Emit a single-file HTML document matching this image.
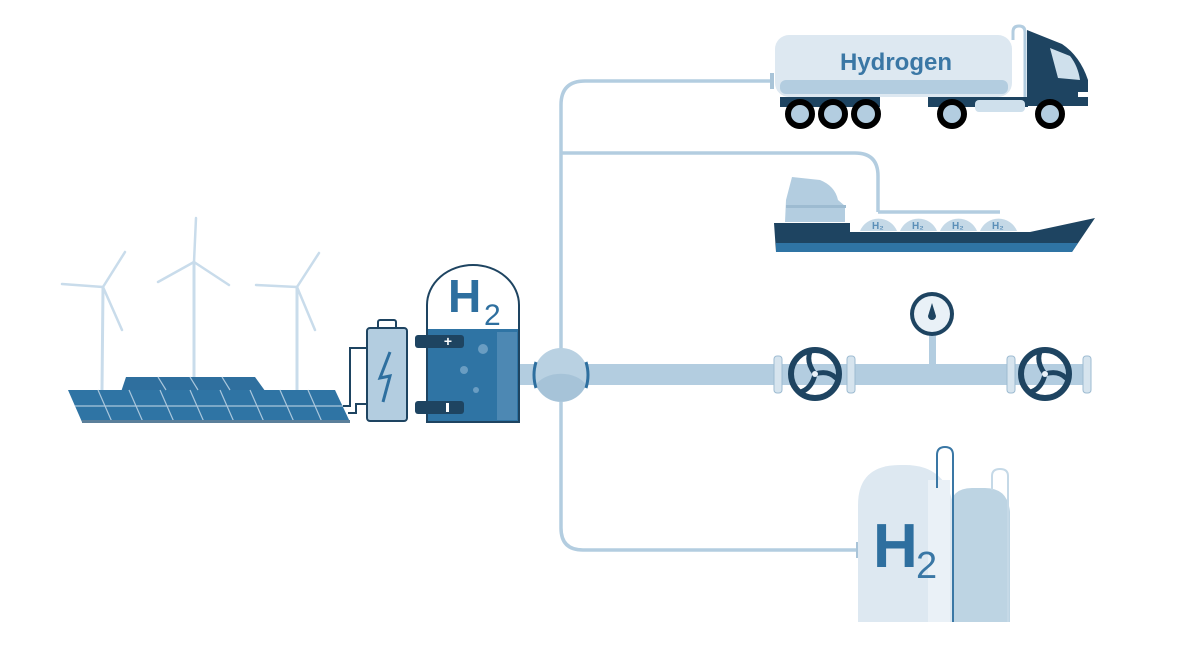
<!DOCTYPE html>
<html><head><meta charset="utf-8"><style>html,body{margin:0;padding:0;background:#fff}svg{display:block}</style></head>
<body>
<svg width="1200" height="657" viewBox="0 0 1200 657" xmlns="http://www.w3.org/2000/svg" font-family="Liberation Sans, sans-serif">
<rect width="1200" height="657" fill="#fff"/>
<!-- thin pipes -->
<g fill="none" stroke="#b3cde0" stroke-width="3.5">
<path d="M773 81 H585 Q561 81 561 105 V528 Q561 550 583 550 H858"/>
<path d="M561 153 H855 Q878 153 878 176 V212"/>
<path d="M878 212 H1000"/>
</g>
<rect x="770" y="73" width="4" height="16" fill="#a9c4d8"/>
<rect x="856" y="542" width="4" height="16" fill="#a9c4d8"/>
<!-- main pipe -->
<rect x="518" y="364" width="568" height="21" fill="#b3cde0"/>
<g fill="#d6e4ee" stroke="#9dbbd1" stroke-width="1">
<rect x="774" y="356" width="8" height="37" rx="3"/><rect x="847" y="356" width="8" height="37" rx="3"/>
<rect x="1007" y="356" width="8" height="37" rx="3"/><rect x="1083" y="356" width="8" height="37" rx="3"/>
</g>
<!-- gauge -->
<rect x="929" y="330" width="7" height="37" fill="#b3cde0"/>
<circle cx="932" cy="314" r="22" fill="#1e4461"/>
<circle cx="932" cy="314" r="18" fill="#e9f1f7"/>
<path d="M932 303 L936 316 A4 4 0 1 1 928 316 Z" fill="#1e4461"/>
<!-- valves -->
<g fill="none" stroke="#1e4461" stroke-width="6">
<circle cx="815" cy="374" r="24"/><circle cx="1045" cy="374" r="24"/>
</g>
<g fill="none" stroke="#1e4461" stroke-width="5" stroke-linecap="round">
<path d="M815 374 Q806 362 810 352 M815 374 Q828 370 836 378 M815 374 Q812 388 801 392"/>
<path d="M1045 374 Q1036 362 1040 352 M1045 374 Q1058 370 1066 378 M1045 374 Q1042 388 1031 392"/>
</g>
<circle cx="815" cy="374" r="3" fill="#e9f1f7"/><circle cx="1045" cy="374" r="3" fill="#e9f1f7"/>
<!-- junction sphere -->
<circle cx="561" cy="375" r="27" fill="#b9d1e2"/>
<path d="M536 385 A27 27 0 0 0 586 385 A27 18 0 0 0 536 385Z" fill="#a6c3d8"/>
<path d="M536 362 Q532 375 536 388 M586 362 Q590 375 586 388" stroke="#2e6f9f" stroke-width="3" fill="none"/>
<!-- electrolyzer -->
<path d="M427 422 V305 A46 40 0 0 1 519 305 V422 Z" fill="#fff" stroke="#1e4461" stroke-width="2"/>
<rect x="428" y="329" width="90" height="92" fill="#2f74a4"/>
<rect x="497" y="332" width="20" height="88" fill="#4d88b3"/>
<circle cx="483" cy="349" r="5" fill="#6a9dc2"/><circle cx="464" cy="370" r="4" fill="#6a9dc2"/><circle cx="476" cy="390" r="3" fill="#6a9dc2"/>
<text x="448" y="312" font-size="46" font-weight="bold" fill="#2e6f9f">H</text>
<text x="484" y="325" font-size="30" fill="#2e6f9f">2</text>
<rect x="415" y="335" width="49" height="13" rx="3" fill="#1e4461"/>
<rect x="415" y="401" width="49" height="13" rx="3" fill="#1e4461"/>
<text x="448" y="346" font-size="14" font-weight="bold" fill="#fff" text-anchor="middle">+</text>
<rect x="446" y="403" width="3" height="9" fill="#fff"/>
<!-- battery -->
<rect x="378" y="320" width="18" height="9" rx="2" fill="#fff" stroke="#1e4461" stroke-width="2"/>
<rect x="367" y="328" width="40" height="93" rx="3" fill="#b3cde0" stroke="#1e4461" stroke-width="2"/>
<path d="M390 352 L380 378 L390 376 L383 402" fill="none" stroke="#2e6f9f" stroke-width="3"/>
<path d="M367 348 H350 V406 H343 M367 404 H356 V413 H348" fill="none" stroke="#1e4461" stroke-width="2"/>
<!-- turbines -->
<g stroke="#c9dceb" fill="none" stroke-linecap="round">
<path d="M102 390 L103 287 M194 390 L194 262 M297 390 L297 287" stroke-width="3"/>
<g stroke-width="2.5">
<path d="M103 287 L125 252 M103 287 L62 284 M103 287 L122 330"/>
<path d="M194 262 L196 218 M194 262 L158 282 M194 262 L229 285"/>
<path d="M297 287 L319 253 M297 287 L256 285 M297 287 L315 330"/>
</g></g>
<!-- solar -->
<path d="M126 377 L255 377 L268 395 L120 395 Z" fill="#2f6f9e"/>
<path d="M68 390 L335 390 L350 422 L82 422 Z" fill="#2f74a4"/>
<g stroke="#a9c6dc" stroke-width="1.2">
<path d="M75 406 H343 M98 390 L112 422 M129 390 L143 422 M160 390 L174 422 M190 390 L204 422 M220 390 L234 422 M250 390 L264 422 M280 390 L294 422 M308 390 L322 422"/>
<path d="M158 377 L166 390 M190 377 L198 390 M222 377 L230 390"/>
</g>
<rect x="82" y="420" width="268" height="3" fill="#5b7f9a"/>
<!-- truck -->
<rect x="775" y="35" width="237" height="62" rx="14" fill="#dde8f1"/>
<rect x="780" y="80" width="228" height="14" rx="6" fill="#b3cde0"/>
<text x="896" y="70" font-size="24" font-weight="bold" fill="#3a77a5" text-anchor="middle">Hydrogen</text>
<path d="M1013 40 V32 Q1013 26 1019 26 Q1025 26 1025 32 V100" fill="none" stroke="#b3cde0" stroke-width="3"/>
<path d="M1027 30 L1062 44 Q1080 56 1088 80 V106 H1027 Z" fill="#1e4461"/>
<path d="M1050 48 L1070 56 Q1078 66 1080 80 L1058 78 Z" fill="#cfe0ec"/>
<rect x="1078" y="92" width="10" height="5" fill="#fff"/>
<rect x="780" y="97" width="100" height="10" fill="#1e4461"/>
<rect x="928" y="97" width="100" height="10" fill="#1e4461"/>
<rect x="975" y="100" width="50" height="12" rx="4" fill="#cfe0ec"/>
<g fill="#b3cde0" stroke="#000" stroke-width="6">
<circle cx="800" cy="114" r="12"/><circle cx="833" cy="114" r="12"/><circle cx="866" cy="114" r="12"/>
<circle cx="952" cy="114" r="12"/><circle cx="1050" cy="114" r="12"/>
</g>
<!-- ship -->
<path d="M792 177 L820 180 Q835 186 838 200 L845 206 L845 222 L785 222 L786 200 Z" fill="#b3cde0"/>
<rect x="786" y="205" width="60" height="3" fill="#9dbbd1"/>
<g fill="#c5d9e7">
<path d="M860 231 A20 20 0 0 1 897 231 Z"/><path d="M900 231 A20 20 0 0 1 937 231 Z"/>
<path d="M940 231 A20 20 0 0 1 977 231 Z"/><path d="M980 231 A20 20 0 0 1 1017 231 Z"/>
</g>
<g font-size="10" fill="#5b8fb8" font-weight="bold"><text x="872" y="229">H₂</text><text x="912" y="229">H₂</text><text x="952" y="229">H₂</text><text x="992" y="229">H₂</text></g>
<path d="M774 223 H850 V232 H1030 L1095 218 L1072 252 H776 Z" fill="#1e4461"/>
<path d="M776 243 H1078 L1072 252 H776 Z" fill="#2f74a4"/>
<!-- storage -->
<path d="M950 622 V510 Q950 488 972 488 H985 Q1008 488 1010 512 V622 Z" fill="#bdd4e3"/>
<path d="M858 622 V505 Q858 465 900 465 H905 Q948 465 954 510 V622 Z" fill="#dde8f1"/>
<rect x="928" y="480" width="22" height="142" fill="#eaf1f7"/>
<path d="M937 488 V455 Q937 447 945 447 Q953 447 953 455 V622" fill="none" stroke="#3a77a5" stroke-width="2"/>
<path d="M992 490 V476 Q992 469 1000 469 Q1008 469 1008 476 V622" fill="none" stroke="#c5d9e7" stroke-width="2"/>
<text x="873" y="567" font-size="62" font-weight="bold" fill="#2e6f9f">H</text>
<text x="916" y="578" font-size="38" fill="#3a77a5">2</text>
</svg>
</body></html>
